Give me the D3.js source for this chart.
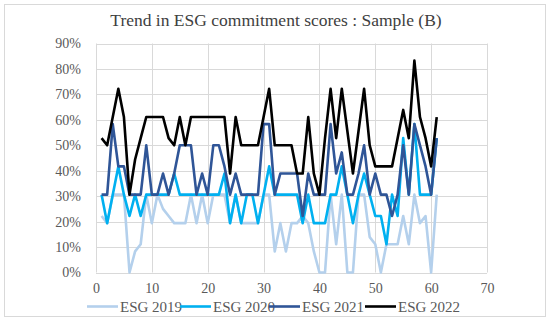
<!DOCTYPE html>
<html>
<head>
<meta charset="utf-8">
<script src="https://cdn.jsdelivr.net/npm/d3@7"></script>
<style>
  body { margin: 0; background: #fff; }
  text { font-family: "Liberation Serif", "Times New Roman", serif; }
</style>
</head>
<body>
<svg id="chart" width="550" height="322"></svg>
<script>
var sampleIndex = d3.range(1, 62);
var esg2019 = [22.2,19.4,30.6,30.6,30.6,0,8.3,11.1,30.6,19.4, 30.6,25,22.2,19.4,19.4,19.4,30.6,19.4,30.6,19.4,
  30.6,30.6,30.6,19.4,30.6,19.4,19.4,19.4,19.4,30.6, 30.6,8.3,19.4,8.3,19.4,19.4,22.2,19.4,8.3,0,
  0,30.6,11.1,30.6,0,0,30.6,30.6,13.9,11.1, 0,11.1,11.1,11.1,22.2,11.1,30.6,19.4,22.2,0, 30.6];
var esg2020 = [30.6,19.4,30.6,41.7,30.6,22.2,30.6,22.2,30.6,30.6, 30.6,30.6,30.6,38.9,30.6,30.6,30.6,30.6,30.6,30.6,
  30.6,30.6,38.9,19.4,30.6,19.4,30.6,30.6,19.4,30.6, 41.7,30.6,30.6,30.6,30.6,30.6,19.4,30.6,19.4,19.4,
  19.4,30.6,30.6,41.7,30.6,19.4,30.6,38.9,30.6,22.2, 22.2,11.1,30.6,22.2,52.8,30.6,58.3,30.6,30.6,30.6, 52.8];
var esg2021 = [30.6,30.6,58.3,41.7,41.7,30.6,30.6,30.6,50,30.6, 30.6,38.9,30.6,38.9,50,50,50,30.6,38.9,30.6,
  50,50,41.7,30.6,38.9,30.6,30.6,30.6,30.6,58.3, 58.3,30.6,38.9,38.9,38.9,38.9,22.2,38.9,30.6,30.6,
  30.6,58.3,38.9,47.2,30.6,30.6,38.9,50,30.6,38.9, 30.6,30.6,22.2,30.6,50,30.6,58.3,50,41.7,30.6, 52.8];
var esg2022 = [52.8,50,61.1,72.2,61.1,30.6,44.4,52.8,61.1,61.1, 61.1,61.1,52.8,50,61.1,50,61.1,61.1,61.1,61.1,
  61.1,61.1,61.1,38.9,61.1,50,50,50,50,61.1, 72.2,50,50,50,50,38.9,38.9,61.1,38.9,30.6,
  52.8,72.2,52.8,72.2,55.6,38.9,55.6,72.2,50,41.7, 41.7,41.7,41.7,52.8,63.9,52.8,83.3,61.1,52.8,41.7, 61.1];

var seriesNames = ["ESG 2019", "ESG 2020", "ESG 2021", "ESG 2022"];
var seriesColors = ["#b4d0ec", "#00b0f0", "#2f5597", "#000000"];
var xTicks = [0, 10, 20, 30, 40, 50, 60, 70];
var yTicks = [0, 10, 20, 30, 40, 50, 60, 70, 80, 90];
var titleText = "Trend in ESG commitment scores : Sample (B)";

var svg = d3.select("#chart");

// cadre de la zone du graphique
svg.append("rect")
  .attr("x", 4.5).attr("y", 4.5)
  .attr("width", 541).attr("height", 312)
  .attr("fill", "#fff").attr("stroke", "#d9d9d9");

var x = d3.scaleLinear().domain([0, 70]).range([96, 487]);
var y = d3.scaleLinear().domain([0, 90]).range([272.5, 43.5]);

// grille
var grid = svg.append("g");
grid.selectAll(".hg").data(yTicks).enter().append("line")
  .attr("x1", x(0)).attr("x2", x(70))
  .attr("y1", function(d) { return Math.round(y(d)) + 0.5; })
  .attr("y2", function(d) { return Math.round(y(d)) + 0.5; })
  .attr("stroke", "#d9d9d9").attr("stroke-width", 1);
grid.selectAll(".vg").data(xTicks).enter().append("line")
  .attr("y1", y(0)).attr("y2", y(90))
  .attr("x1", function(d) { return Math.round(x(d)) + 0.5; })
  .attr("x2", function(d) { return Math.round(x(d)) + 0.5; })
  .attr("stroke", "#d9d9d9").attr("stroke-width", 1);

// axes (étiquettes seulement)
var yAxis = svg.append("g")
  .attr("transform", "translate(" + (x(0) - 12) + ",0)")
  .call(d3.axisLeft(y).tickValues(yTicks).tickSize(0).tickFormat(function(d) { return d + "%"; }));
var xAxis = svg.append("g")
  .attr("transform", "translate(0," + (y(0) + 8) + ")")
  .call(d3.axisBottom(x).tickValues(xTicks).tickSize(0));
[yAxis, xAxis].forEach(function(a) {
  a.attr("font-family", '"Liberation Serif", serif').attr("font-size", 14);
  a.select(".domain").remove();
  a.selectAll("text").attr("fill", "#595959");
});

// séries
var allSeries = [esg2019, esg2020, esg2021, esg2022];
var line = d3.line()
  .x(function(d, i) { return x(sampleIndex[i]); })
  .y(function(d) { return y(d); });

svg.append("g").selectAll("path")
  .data(allSeries)
  .enter().append("path")
  .attr("d", line)
  .attr("fill", "none")
  .attr("stroke", function(d, i) { return seriesColors[i]; })
  .attr("stroke-width", 2.6)
  .attr("stroke-linejoin", "round");

// titre
svg.append("text")
  .attr("x", 276).attr("y", 26)
  .attr("text-anchor", "middle")
  .style("font-size", "17.5px")
  .attr("fill", "#404040")
  .text(titleText);

// légende
var legendX = [87, 180, 269, 365];
var legend = svg.append("g").selectAll("g")
  .data(seriesNames)
  .enter().append("g")
  .attr("transform", function(d, i) { return "translate(" + legendX[i] + ",306.5)"; });
legend.append("line")
  .attr("x1", 0).attr("x2", 31)
  .attr("stroke", function(d, i) { return seriesColors[i]; })
  .attr("stroke-width", 2.6);
legend.append("text")
  .attr("x", 33).attr("y", 5)
  .style("font-size", "15px")
  .attr("fill", "#595959")
  .text(function(d) { return d; });
</script>
</body>
</html>
